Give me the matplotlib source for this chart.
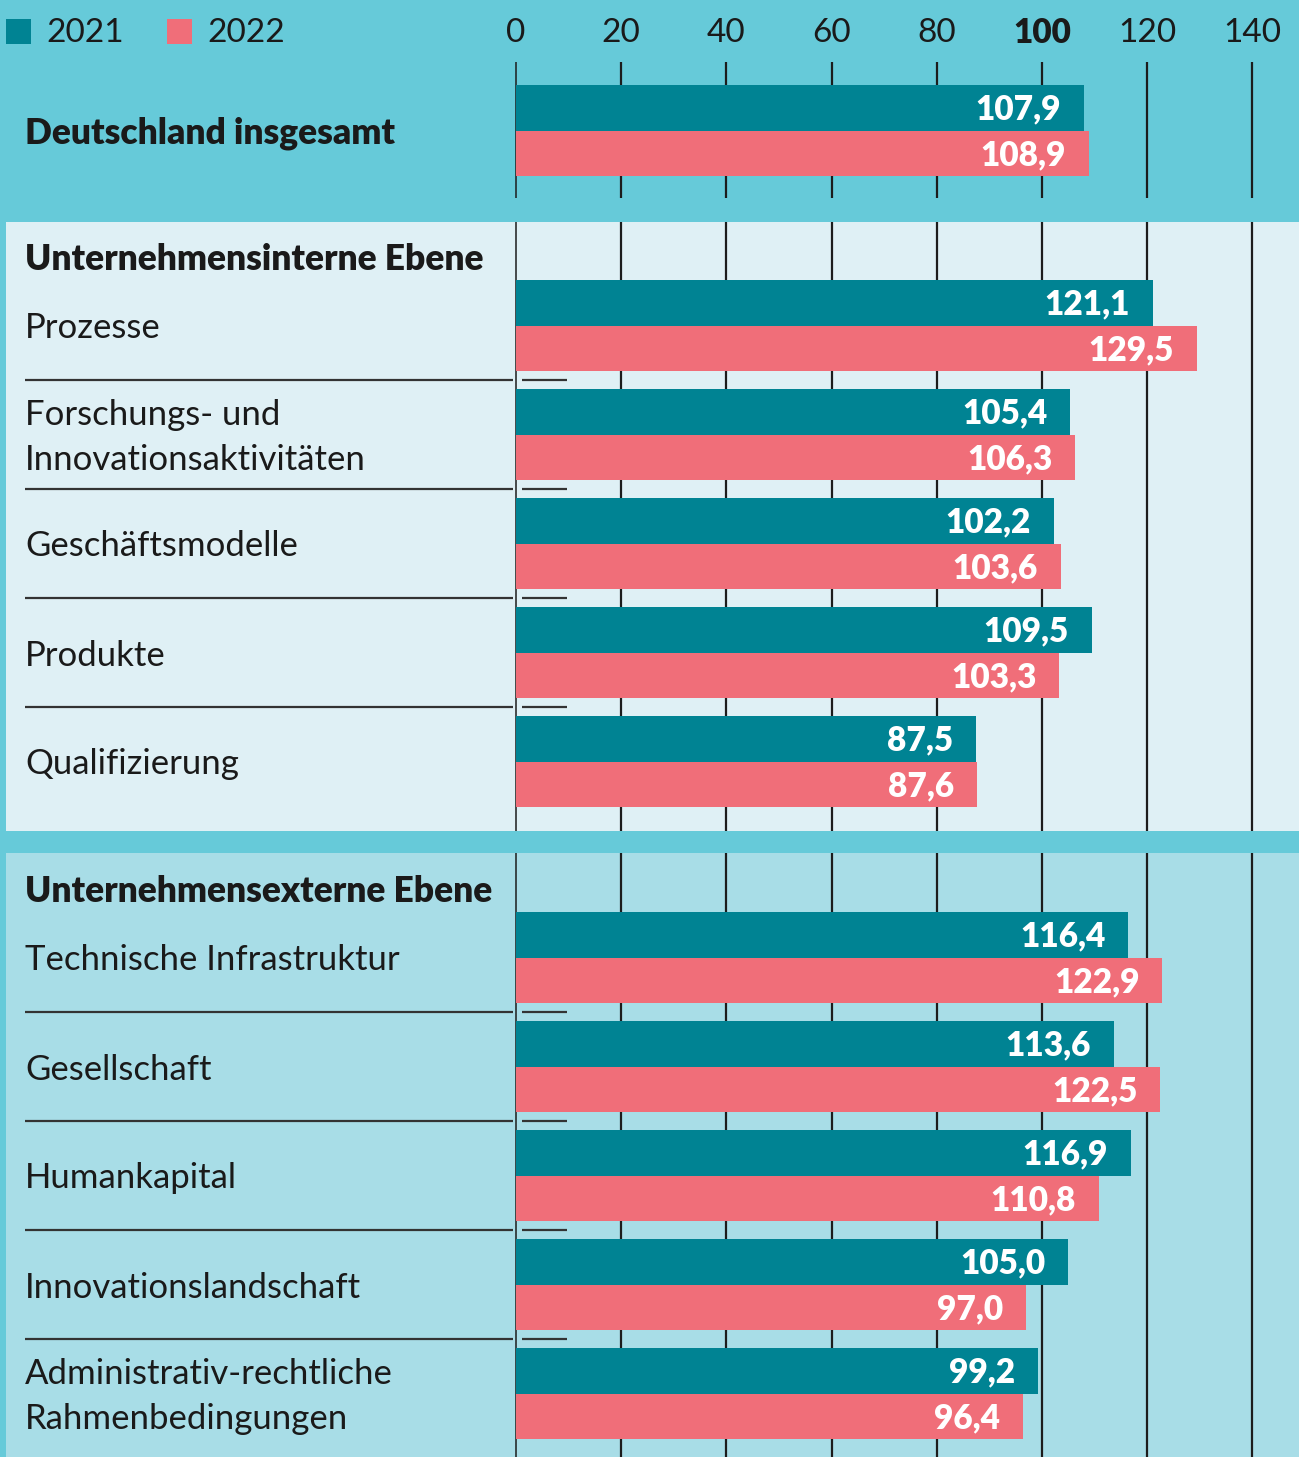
import matplotlib
matplotlib.use("Agg")
import matplotlib.pyplot as plt
from matplotlib.patches import Rectangle

# ---------------- data ----------------
legend_labels = ["2021", "2022"]
tick_values = [0, 20, 40, 60, 80, 100, 120, 140]
tick_labels = ["0", "20", "40", "60", "80", "100", "120", "140"]

overall_label = "Deutschland insgesamt"
overall_2021 = [107.9]
overall_2022 = [108.9]

intern_title = "Unternehmensinterne Ebene"
intern_cats = ["Prozesse", "Forschungs- und\nInnovationsaktivitäten",
               "Geschäftsmodelle", "Produkte", "Qualifizierung"]
intern_2021 = [121.1, 105.4, 102.2, 109.5, 87.5]
intern_2022 = [129.5, 106.3, 103.6, 103.3, 87.6]

extern_title = "Unternehmensexterne Ebene"
extern_cats = ["Technische Infrastruktur", "Gesellschaft", "Humankapital",
               "Innovationslandschaft", "Administrativ-rechtliche\nRahmenbedingungen"]
extern_2021 = [116.4, 113.6, 116.9, 105.0, 99.2]
extern_2022 = [122.9, 122.5, 110.8, 97.0, 96.4]

# ---------------- style ----------------
C21 = "#008393"
C22 = "#F06E79"
BG_TOP = "#66CAD9"
BG_MID = "#DFF0F5"
BG_BOT = "#A8DDE7"
GRID = "#1c1c1c"
FONT = "Lato"
FS_TICK = 24
FS_LAB = 25
FS_HEAD = 25.5
FS_VAL = 24
BOLD = "heavy"

W, H = 1299, 1457
X0 = 516          # pixel of value 0
PX = 5.26         # pixels per unit
BAR_H = 45.5
PITCH = 109

plt.rcParams["font.family"] = [FONT, "DejaVu Sans"]

fig = plt.figure(figsize=(W / 100, H / 100), dpi=100, facecolor=BG_TOP)
ax = fig.add_axes([0, 0, 1, 1])
ax.set_xlim(-X0 / PX, (W - X0) / PX)
ax.set_ylim(H, 0)
ax.axis("off")
ax.set_facecolor(BG_TOP)


def fx(px):
    return (px - X0) / PX


# panels
ax.add_patch(Rectangle((fx(6), 222), fx(W + 5) - fx(6), 609, color=BG_MID, zorder=0, lw=0))
ax.add_patch(Rectangle((fx(6), 853), fx(W + 5) - fx(6), 610, color=BG_BOT, zorder=0, lw=0))

# gridlines
for (y0, y1) in [(62, 198), (222, 831), (853, H + 5)]:
    for t in tick_values:
        ax.vlines(t, y0, y1, color=GRID, lw=1.1 if t == 0 else 1.6, zorder=1)

# tick labels
for t, lab in zip(tick_values, tick_labels):
    ax.text(t, 33, lab, ha="center", va="center", fontsize=FS_TICK,
            fontweight=BOLD if t == 100 else "normal", color="#1a1a1a")

# legend
for i, (lab, col) in enumerate(zip(legend_labels, [C21, C22])):
    xs = [6, 167][i]
    ax.add_patch(Rectangle((fx(xs), 19), 25 / PX, 25, color=col, lw=0, zorder=3))
    ax.text(fx(xs + 40), 33, lab, ha="left", va="center", fontsize=FS_TICK, color="#1a1a1a")


def fmt(v):
    return f"{v:.1f}".replace(".", ",")


def draw_group(top, cats, v21, v22, pitch, label_bold=False):
    n = len(cats)
    ys21 = [top + i * pitch + BAR_H / 2 for i in range(n)]
    ys22 = [y + BAR_H for y in ys21]
    ax.barh(ys21, v21, height=BAR_H, color=C21, zorder=3, lw=0)
    ax.barh(ys22, v22, height=BAR_H, color=C22, zorder=3, lw=0)
    for y, v in zip(ys21, v21):
        ax.text(v - 23 / PX, y + 2, fmt(v), ha="right", va="center", color="white",
                fontsize=FS_VAL, fontweight=BOLD, zorder=4)
    for y, v in zip(ys22, v22):
        ax.text(v - 23 / PX, y + 2, fmt(v), ha="right", va="center", color="white",
                fontsize=FS_VAL, fontweight=BOLD, zorder=4)
    for i, c in enumerate(cats):
        yc = top + i * pitch + BAR_H + 3
        ax.text(fx(25), yc, c, ha="left", va="center",
                fontsize=FS_HEAD if label_bold else FS_LAB,
                fontweight=BOLD if label_bold else "normal", color="#1a1a1a",
                linespacing=1.5)
        if i < n - 1:
            ys = top + i * pitch + 2 * BAR_H + 9
            ax.hlines(ys, fx(25), fx(513), color="#333333", lw=1.6, zorder=2)
            ax.hlines(ys, fx(522), fx(567), color="#333333", lw=1.6, zorder=2)


draw_group(85, [overall_label], overall_2021, overall_2022, PITCH, label_bold=True)

ax.text(fx(25), 259, intern_title, ha="left", va="center", fontsize=FS_HEAD,
        fontweight=BOLD, color="#1a1a1a")
draw_group(280, intern_cats, intern_2021, intern_2022, PITCH)

ax.text(fx(25), 891, extern_title, ha="left", va="center", fontsize=FS_HEAD,
        fontweight=BOLD, color="#1a1a1a")
draw_group(912, extern_cats, extern_2021, extern_2022, PITCH)

fig.savefig("out.png", dpi=100, facecolor=BG_TOP)
